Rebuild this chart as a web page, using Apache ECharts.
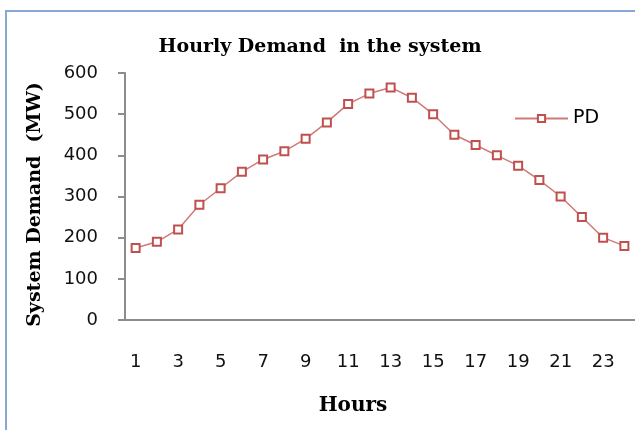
<!DOCTYPE html>
<html>
<head>
<meta charset="utf-8">
<script src="https://cdn.jsdelivr.net/npm/echarts@6/dist/echarts.min.js"></script>
<style>
  html, body { margin: 0; padding: 0; background: #fff; }
  #chart { width: 635px; height: 430px; }
</style>
</head>
<body>
<div id="chart"></div>
<script>
// hours on the x axis
var hours = ['1','2','3','4','5','6','7','8','9','10','11','12','13','14','15','16','17','18','19','20','21','22','23','24'];
// system demand PD (MW)
var pd = [175, 190, 220, 280, 320, 360, 390, 410, 440, 480, 525, 550, 565, 540, 500, 450, 425, 400, 375, 340, 300, 250, 200, 180];

var chart = echarts.init(document.getElementById('chart'));

var axisGrey = '#8c8c8c';
var red = '#c0504d';
var serif = 'DejaVu Serif';

var option = {
  animation: false,
  title: {
    text: 'Hourly Demand  in the system',
    left: 315,
    top: 33,
    textAlign: 'center',
    textStyle: { fontFamily: serif, fontWeight: 'bold', fontSize: 19, color: '#000' }
  },
  graphic: [{ // outer frame (top + left visible)
    type: 'rect',
    shape: { x: 6, y: 11, width: 700, height: 500 },
    style: { fill: 'none', stroke: '#88a6d6', lineWidth: 2 }
  }],
  legend: {
    left: 509,
    top: 104,
    itemWidth: 53,
    itemHeight: 9,
    textStyle: { fontFamily: 'DejaVu Sans', fontSize: 19, color: '#000' },
    data: ['PD']
  },
  grid: { left: 125, top: 73, bottom: 110, right: -2 },
  xAxis: {
    type: 'category',
    data: hours,
    boundaryGap: true,
    name: 'Hours',
    nameLocation: 'middle',
    nameGap: 76,
    nameTextStyle: { fontFamily: serif, fontWeight: 'bold', fontSize: 20, color: '#000', padding: [0, 54, 0, 0] },
    axisLine: { lineStyle: { color: axisGrey, width: 2 } },
    axisTick: { interval: 0, length: 7, lineStyle: { color: axisGrey, width: 2 } },
    axisLabel: { interval: 1, margin: 33, fontFamily: 'DejaVu Sans', fontSize: 18, color: '#111' }
  },
  yAxis: {
    type: 'value',
    min: 0,
    max: 600,
    interval: 100,
    name: 'System Demand  (MW)',
    nameLocation: 'middle',
    nameGap: 80,
    nameTextStyle: { fontFamily: serif, fontWeight: 'bold', fontSize: 19, color: '#000', padding: [0, 16, 0, 0] },
    splitLine: { show: false },
    axisLine: { show: true, lineStyle: { color: axisGrey, width: 2 } },
    axisTick: { show: true, length: 7, lineStyle: { color: axisGrey, width: 2 } },
    axisLabel: { margin: 27, fontFamily: 'DejaVu Sans', fontSize: 18, color: '#111' }
  },
  series: [{
    name: 'PD',
    type: 'line',
    data: pd,
    symbol: 'rect',
    symbolSize: 8,
    color: red,
    lineStyle: { color: '#d07a78', width: 1.5 },
    itemStyle: { color: '#fff', borderColor: red, borderWidth: 2 }
  }]
};

chart.setOption(option);
</script>
</body>
</html>
